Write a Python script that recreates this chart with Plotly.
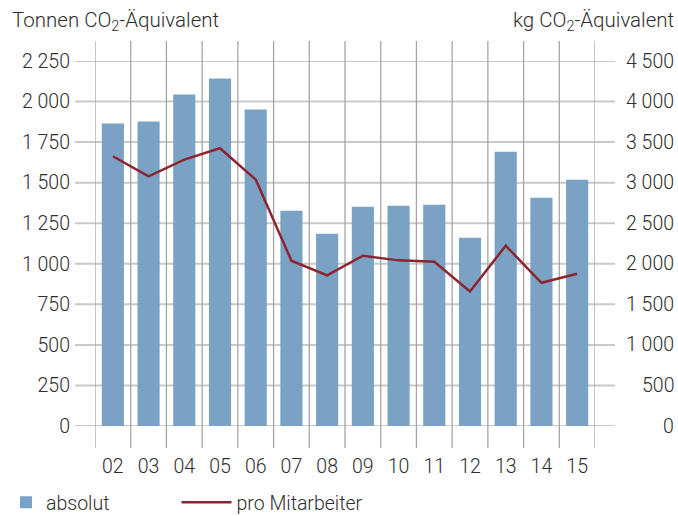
import plotly.graph_objects as go

# Jahre (Kurzform) und Emissionswerte
years = ["02", "03", "04", "05", "06", "07", "08", "09", "10", "11", "12", "13", "14", "15"]
absolut_t = [1864, 1877, 2043, 2142, 1951, 1327, 1185, 1352, 1358, 1364, 1160, 1691, 1407, 1518]
pro_mitarbeiter_kg = [3326, 3079, 3285, 3425, 3038, 2038, 1856, 2100, 2042, 2025, 1659, 2223, 1766, 1877]

left_ticks = [0, 250, 500, 750, 1000, 1250, 1500, 1750, 2000, 2250]
right_ticks = [0, 500, 1000, 1500, 2000, 2500, 3000, 3500, 4000, 4500]

BAR_COLOR = "#79a2c5"
LINE_COLOR = "#8c2530"
TEXT_COLOR = "#2e2e2e"
HGRID = "#c9c9c9"
VGRID = "#a6a6a6"
FONT = dict(family="Roboto, 'Open Sans', sans-serif", size=19.5, color=TEXT_COLOR, weight=300)
TITLE_FONT = dict(FONT, size=20.5)

fig = go.Figure()
fig.add_trace(go.Bar(
    x=years, y=absolut_t, name="absolut", marker=dict(color=BAR_COLOR, line=dict(width=0)),
    yaxis="y", width=0.62, legend="legend",
))
fig.add_trace(go.Scatter(
    x=years, y=pro_mitarbeiter_kg, name="pro Mitarbeiter", mode="lines",
    line=dict(color=LINE_COLOR, width=2.5), yaxis="y2", legend="legend2",
))

shapes = []
# horizontale Gitterlinien, etwas breiter als der Plotbereich
for v in left_ticks:
    shapes.append(dict(type="line", xref="paper", yref="y", x0=-0.04, x1=1.04, y0=v, y1=v,
                       line=dict(color=HGRID, width=2), layer="below"))
# senkrechte Trennlinien zwischen den Jahren
for i in range(len(years) + 1):
    shapes.append(dict(type="line", xref="x", yref="paper", x0=i - 0.5, x1=i - 0.5,
                       y0=-0.06, y1=1.055, line=dict(color=VGRID, width=1.3), layer="below"))

annotations = [
    dict(text="Tonnen CO<sub>2</sub>-Äquivalent", xref="paper", yref="paper", x=-0.17, y=1.107,
         xanchor="left", yanchor="middle", showarrow=False, font=TITLE_FONT),
    dict(text="kg CO<sub>2</sub>-Äquivalent", xref="paper", yref="paper", x=1.162, y=1.107,
         xanchor="right", yanchor="middle", showarrow=False, font=TITLE_FONT),
]
# rechte Achsenbeschriftung rechtsbündig
for v in right_ticks:
    annotations.append(dict(text=f"{v:,}".replace(",", " "), xref="paper", yref="y2", x=1.162, y=v,
                            xanchor="right", yanchor="middle", showarrow=False, font=FONT))

legend_common = dict(orientation="h", xanchor="left", y=-0.21, yanchor="middle",
                     font=FONT, bgcolor="rgba(0,0,0,0)")

fig.update_layout(
    width=678, height=516,
    margin=dict(l=95, r=83, t=61, b=90, autoexpand=False),
    paper_bgcolor="white", plot_bgcolor="white",
    font=FONT,
    separators=", ",
    bargap=0.38,
    shapes=shapes,
    annotations=annotations,
    xaxis=dict(type="category", range=[-0.5, len(years) - 0.5], showgrid=False, zeroline=False,
               showline=False, ticks="", ticklabelstandoff=26, tickfont=FONT),
    yaxis=dict(range=[0, 2250], tickvals=left_ticks, tickformat=",d", showgrid=False,
               zeroline=False, showline=False, ticks="", ticklabelstandoff=24, tickfont=FONT),
    yaxis2=dict(range=[0, 4500], overlaying="y", side="right", showgrid=False, zeroline=False,
                showline=False, showticklabels=False, ticks=""),
    legend=dict(x=-0.178, itemwidth=30, **legend_common),
    legend2=dict(x=0.163, itemwidth=50, **legend_common),
    showlegend=True,
)

fig.write_html("out.html")
